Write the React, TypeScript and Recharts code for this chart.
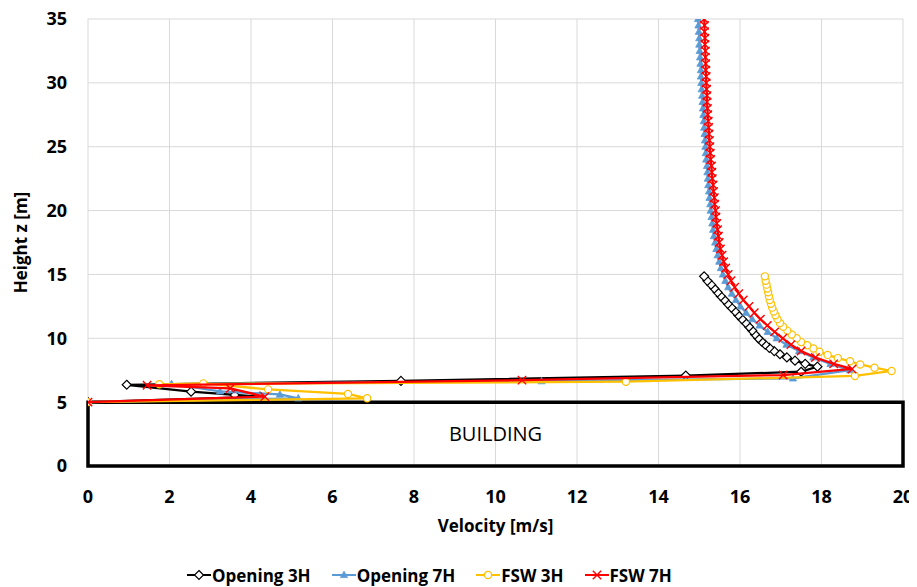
import React from "react";
import {
  ScatterChart,
  Scatter,
  XAxis,
  YAxis,
  CartesianGrid,
  ReferenceArea,
} from "recharts";

// velocity profiles above the roof, [velocity m/s, height m], ordered bottom to top
const opening3H = [
  [0, 5.0], [4.22, 5.43], [3.6, 5.56], [2.53, 5.82], [0.95, 6.36],
  [7.68, 6.66], [14.67, 7.08], [17.5, 7.38], [17.9, 7.78], [17.6, 8.0],
  [17.35, 8.25], [17.15, 8.5], [16.98, 8.75], [16.84, 9.0], [16.72, 9.25],
  [16.62, 9.5], [16.53, 9.75], [16.45, 10.0], [16.37, 10.3], [16.3, 10.6],
  [16.22, 10.9], [16.14, 11.2], [16.05, 11.5], [15.96, 11.8], [15.88, 12.1],
  [15.79, 12.4], [15.7, 12.7], [15.62, 13.0], [15.53, 13.3], [15.45, 13.6],
  [15.37, 13.9], [15.29, 14.2], [15.2, 14.5], [15.12, 14.85],
];

const opening7H = [
  [0, 5.0], [5.16, 5.3], [4.71, 5.6], [3.24, 5.84], [2.05, 6.42], [11.13, 6.64],
  [17.3, 6.86], [18.7, 7.5], [18.22, 8.0], [17.8, 8.5], [17.45, 9.0],
  [17.14, 9.5], [16.9, 10.0], [16.68, 10.5], [16.48, 11.0], [16.3, 11.5],
  [16.15, 12.0], [16.01, 12.5], [15.9, 13.0], [15.8, 13.5], [15.71, 14.0],
  [15.64, 14.5], [15.58, 15.0], [15.53, 15.5], [15.49, 16.0], [15.45, 16.5],
  [15.42, 17.0], [15.39, 17.5], [15.36, 18.0], [15.34, 18.5], [15.32, 19.0],
  [15.3, 19.5], [15.28, 20.0], [15.27, 20.5], [15.25, 21.0], [15.24, 21.5],
  [15.22, 22.0], [15.21, 22.5], [15.2, 23.0], [15.19, 23.5], [15.17, 24.0],
  [15.16, 24.5], [15.15, 25.0], [15.14, 25.5], [15.13, 26.0], [15.12, 26.5],
  [15.11, 27.0], [15.1, 27.5], [15.09, 28.0], [15.08, 28.5], [15.07, 29.0],
  [15.06, 29.5], [15.05, 30.0], [15.04, 30.5], [15.04, 31.0], [15.03, 31.5],
  [15.02, 32.0], [15.01, 32.5], [15.0, 33.0], [15.0, 33.5], [14.99, 34.0],
  [14.98, 34.5], [14.97, 35.0],
];

const fsw3H = [
  [0, 5.0], [6.85, 5.3], [6.38, 5.64], [4.42, 6.0], [2.83, 6.47], [1.75, 6.4],
  [13.2, 6.6], [18.82, 7.05], [19.72, 7.44], [19.3, 7.7], [18.95, 7.95],
  [18.7, 8.2], [18.4, 8.45], [18.15, 8.7], [17.95, 8.95], [17.8, 9.2],
  [17.65, 9.45], [17.5, 9.7], [17.39, 10.0], [17.27, 10.3], [17.16, 10.6],
  [17.06, 10.9], [16.98, 11.2], [16.92, 11.5], [16.87, 11.8], [16.83, 12.1],
  [16.79, 12.4], [16.76, 12.7], [16.73, 13.0], [16.71, 13.3], [16.69, 13.6],
  [16.67, 13.9], [16.65, 14.2], [16.63, 14.5], [16.61, 14.85],
];

const fsw7H = [
  [0, 5.0], [4.34, 5.43], [3.49, 6.08], [1.45, 6.32], [10.65, 6.72],
  [17.06, 7.12], [18.75, 7.6], [18.3, 8.0], [17.85, 8.5], [17.5, 9.0],
  [17.25, 9.5], [17.05, 10.0], [16.85, 10.5], [16.67, 11.0], [16.5, 11.5],
  [16.35, 12.0], [16.22, 12.5], [16.08, 13.0], [15.97, 13.5], [15.87, 14.0],
  [15.78, 14.5], [15.71, 15.0], [15.65, 15.5], [15.6, 16.0], [15.56, 16.5],
  [15.52, 17.0], [15.49, 17.5], [15.47, 18.0], [15.45, 18.5], [15.43, 19.0],
  [15.41, 19.5], [15.4, 20.0], [15.38, 20.5], [15.37, 21.0], [15.35, 21.5],
  [15.34, 22.0], [15.32, 22.5], [15.31, 23.0], [15.3, 23.5], [15.28, 24.0],
  [15.27, 24.5], [15.26, 25.0], [15.25, 25.5], [15.24, 26.0], [15.23, 26.5],
  [15.22, 27.0], [15.21, 27.5], [15.2, 28.0], [15.19, 28.5], [15.19, 29.0],
  [15.18, 29.5], [15.17, 30.0], [15.17, 30.5], [15.16, 31.0], [15.16, 31.5],
  [15.15, 32.0], [15.15, 32.5], [15.14, 33.0], [15.14, 33.5], [15.13, 34.0],
  [15.13, 34.5], [15.12, 35.0],
];

const velocityTicks = [0, 2, 4, 6, 8, 10, 12, 14, 16, 18, 20];
const heightTicks = [0, 5, 10, 15, 20, 25, 30, 35];

const toPoints = (rows: number[][]) => rows.map(([v, z]) => ({ v, z }));

const BLACK = "#000000";
const BLUE = "#5B9BD5";
const GOLD = "#FFC000";
const RED = "#FF0000";
const GRID = "#D9D9D9";
const FONT = "'Open Sans', sans-serif";

function Diamond({ cx, cy }: { cx?: number; cy?: number }) {
  if (cx == null || cy == null) return null;
  const r = 4.5;
  return (
    <path
      d={`M${cx},${cy - r}L${cx + r},${cy}L${cx},${cy + r}L${cx - r},${cy}Z`}
      fill="#fff"
      stroke={BLACK}
      strokeWidth={1.2}
    />
  );
}

function Triangle({ cx, cy }: { cx?: number; cy?: number }) {
  if (cx == null || cy == null) return null;
  return (
    <path
      d={`M${cx},${cy - 3.8}L${cx + 3.6},${cy + 2.6}L${cx - 3.6},${cy + 2.6}Z`}
      fill={BLUE}
      stroke={BLUE}
      strokeWidth={0.8}
    />
  );
}

function Ring({ cx, cy }: { cx?: number; cy?: number }) {
  if (cx == null || cy == null) return null;
  return <circle cx={cx} cy={cy} r={3.6} fill="#fff" stroke={GOLD} strokeWidth={1.2} />;
}

function Cross({ cx, cy }: { cx?: number; cy?: number }) {
  if (cx == null || cy == null) return null;
  const r = 4.2;
  return (
    <path
      d={`M${cx - r},${cy - r}L${cx + r},${cy + r}M${cx - r},${cy + r}L${cx + r},${cy - r}`}
      stroke={RED}
      strokeWidth={1.4}
      fill="none"
    />
  );
}

const SERIES = [
  { name: "Opening 3H", data: opening3H, color: BLACK, Marker: Diamond },
  { name: "Opening 7H", data: opening7H, color: BLUE, Marker: Triangle },
  { name: "FSW 3H", data: fsw3H, color: GOLD, Marker: Ring },
  { name: "FSW 7H", data: fsw7H, color: RED, Marker: Cross },
];

function LegendRow() {
  return (
    <div
      style={{
        display: "flex",
        alignItems: "center",
        paddingLeft: 187,
        marginTop: 15,
        height: 24,
        fontFamily: FONT,
        fontWeight: 700,
        fontSize: 17,
        color: "#000",
      }}
    >
      {SERIES.map(({ name, color, Marker }) => (
        <div key={name} style={{ display: "flex", alignItems: "center", marginRight: 21 }}>
          <svg width={24} height={14}>
            <line x1={0} y1={7} x2={24} y2={7} stroke={color} strokeWidth={2} />
            <Marker cx={12} cy={7} />
          </svg>
          <span style={{ marginLeft: 1 }}>{name}</span>
        </div>
      ))}
    </div>
  );
}

export default function App() {
  const tick = { fontSize: 18, fontWeight: 700, fill: "#000", fontFamily: FONT };
  const title = { fontSize: 17, fontWeight: 700, fill: "#000", fontFamily: FONT };
  return (
    <div style={{ width: 917, margin: "-8px 0 0 -8px", background: "#fff" }}>
      <ScatterChart width={917} height={548} margin={{ top: 19, right: 14, left: 0, bottom: 10 }}>
        <CartesianGrid stroke={GRID} strokeWidth={1} />
        <XAxis
          type="number"
          dataKey="v"
          domain={[0, 20]}
          ticks={velocityTicks}
          allowDataOverflow
          axisLine={false}
          tickLine={false}
          tickSize={0}
          tickMargin={24}
          height={72}
          tick={tick}
          label={{ value: "Velocity [m/s]", position: "insideBottom", offset: 6, style: title }}
        />
        <YAxis
          type="number"
          dataKey="z"
          domain={[0, 35]}
          ticks={heightTicks}
          allowDataOverflow
          axisLine={false}
          tickLine={false}
          tickSize={0}
          tickMargin={21}
          width={88}
          tick={tick}
          label={{
            value: "Height z [m]",
            angle: -90,
            position: "insideLeft",
            offset: 21,
            style: { ...title, textAnchor: "middle" },
          }}
        />
        <ReferenceArea
          x1={0}
          x2={20}
          y1={0}
          y2={5}
          fill="none"
          fillOpacity={0}
          stroke={BLACK}
          strokeWidth={3.5}
          label={{ value: "BUILDING", position: "center", fontSize: 20, fill: "#000", fontFamily: FONT }}
        />
        {SERIES.map(({ name, data, color, Marker }) => (
          <Scatter
            key={name}
            name={name}
            data={toPoints(data)}
            line={{ stroke: color, strokeWidth: 2.25 }}
            lineJointType="linear"
            shape={(p: any) => <Marker cx={p.cx} cy={p.cy} />}
            isAnimationActive={false}
          />
        ))}
      </ScatterChart>
      <LegendRow />
    </div>
  );
}
